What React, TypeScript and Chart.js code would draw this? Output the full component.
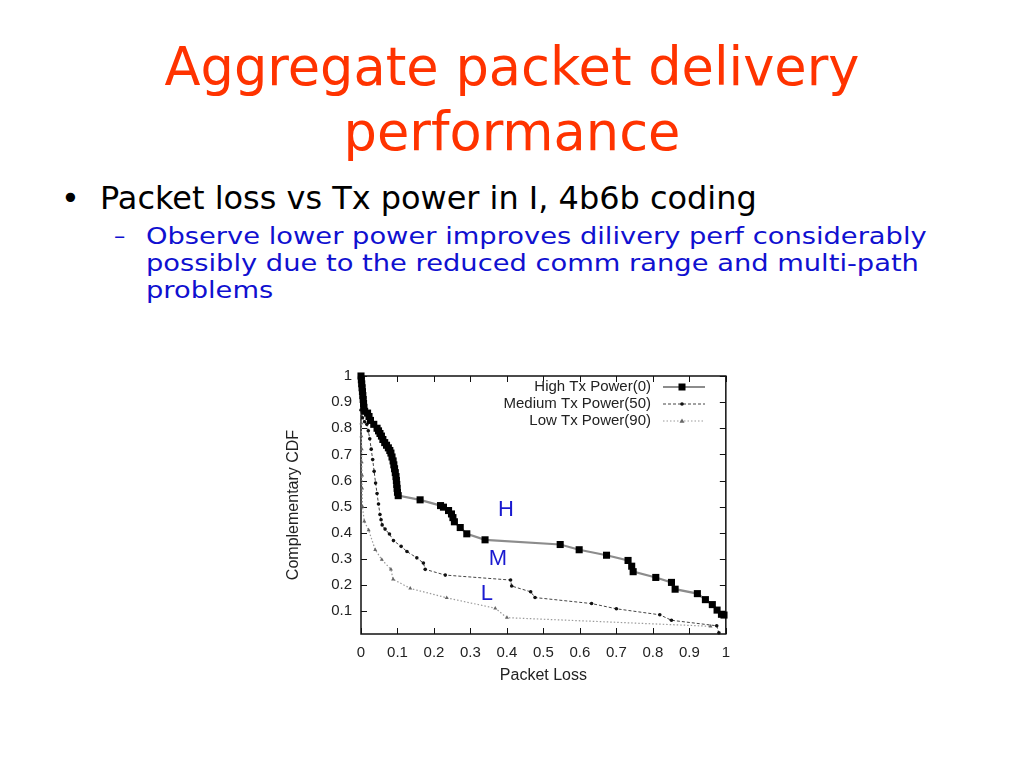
import { useEffect, useRef } from "react";
import { Chart, registerables } from "chart.js";

Chart.register(...registerables);

// ---------- slide text ----------
const titleLines = ["Aggregate packet delivery", "performance"];
const bulletText = "Packet loss vs Tx power in I, 4b6b coding";
const subBulletLines = [
  "Observe lower power improves dilivery perf considerably",
  "possibly due to the reduced comm range and multi-path",
  "problems",
];

// ---------- chart data ----------
const seriesNames = ["High Tx Power(0)", "Medium Tx Power(50)", "Low Tx Power(90)"];

const highX = [0, 0.001, 0.002, 0.003, 0.004, 0.005, 0.006, 0.007, 0.008, 0.01, 0.018, 0.022, 0.026, 0.035, 0.044, 0.048, 0.052, 0.056, 0.06, 0.065, 0.07, 0.075, 0.079, 0.082, 0.085, 0.088, 0.09, 0.092, 0.094, 0.096, 0.097, 0.098, 0.099, 0.1, 0.102, 0.162, 0.218, 0.226, 0.24, 0.248, 0.252, 0.256, 0.272, 0.29, 0.34, 0.546, 0.598, 0.673, 0.732, 0.742, 0.746, 0.808, 0.851, 0.861, 0.922, 0.944, 0.963, 0.976, 0.988, 0.995];
const highY = [1, 0.985, 0.97, 0.955, 0.94, 0.925, 0.91, 0.895, 0.88, 0.865, 0.858, 0.845, 0.83, 0.815, 0.8, 0.79, 0.78, 0.77, 0.757, 0.745, 0.735, 0.725, 0.715, 0.705, 0.69, 0.675, 0.66, 0.645, 0.63, 0.615, 0.6, 0.585, 0.57, 0.555, 0.542, 0.526, 0.504, 0.498, 0.485, 0.472, 0.458, 0.442, 0.42, 0.396, 0.373, 0.355, 0.335, 0.314, 0.294, 0.272, 0.251, 0.229, 0.21, 0.184, 0.167, 0.144, 0.125, 0.104, 0.088, 0.085];

const mediumX = [0, 0.004, 0.01, 0.016, 0.02, 0.024, 0.028, 0.032, 0.036, 0.04, 0.044, 0.048, 0.052, 0.055, 0.058, 0.066, 0.078, 0.089, 0.11, 0.126, 0.153, 0.171, 0.176, 0.231, 0.41, 0.413, 0.465, 0.477, 0.632, 0.7, 0.819, 0.851, 0.975, 0.981];
const mediumY = [0.87, 0.84, 0.825, 0.815, 0.79, 0.76, 0.72, 0.68, 0.635, 0.59, 0.55, 0.51, 0.47, 0.45, 0.43, 0.414, 0.395, 0.37, 0.348, 0.328, 0.304, 0.284, 0.26, 0.238, 0.219, 0.196, 0.174, 0.152, 0.129, 0.109, 0.086, 0.065, 0.044, 0.017];

const lowX = [0, 0.001, 0.001, 0.002, 0.002, 0.003, 0.003, 0.004, 0.009, 0.021, 0.039, 0.057, 0.082, 0.088, 0.135, 0.235, 0.368, 0.4, 0.958];
const lowY = [0.87, 0.82, 0.77, 0.72, 0.67, 0.62, 0.57, 0.5, 0.444, 0.41, 0.335, 0.297, 0.26, 0.222, 0.187, 0.151, 0.111, 0.075, 0.042];

const xTicks = [0, 0.1, 0.2, 0.3, 0.4, 0.5, 0.6, 0.7, 0.8, 0.9, 1];
const yTicks = [0.1, 0.2, 0.3, 0.4, 0.5, 0.6, 0.7, 0.8, 0.9, 1];
const xTitle = "Packet Loss";
const yTitle = "Complementary CDF";

const curveLabels = ["H", "M", "L"];
const curveLabelX = [0.397, 0.375, 0.345];
const curveLabelY = [0.487, 0.298, 0.167];

// ---------- helpers ----------
const SLIDE_FONT = "'DejaVu Sans', sans-serif";
const CHART_FONT = "'Liberation Sans', Arial, sans-serif";

function measure(text: string, family: string, size: number): number {
  const c = document.createElement("canvas").getContext("2d");
  if (!c) return text.length * size * 0.6;
  c.font = `${size}px ${family}`;
  return c.measureText(text).width;
}

function fitSize(text: string, family: string, target: number): number {
  return (100 * target) / measure(text, family, 100);
}

const toPoints = (xs: number[], ys: number[]) => xs.map((x, i) => ({ x, y: ys[i] }));

function drawMarker(ctx: CanvasRenderingContext2D, kind: number, x: number, y: number) {
  ctx.save();
  if (kind === 0) {
    ctx.fillStyle = "#000";
    ctx.fillRect(x - 3.5, y - 3.5, 7, 7);
  } else if (kind === 1) {
    ctx.fillStyle = "#111";
    ctx.beginPath();
    ctx.arc(x, y, 1.8, 0, Math.PI * 2);
    ctx.fill();
  } else {
    ctx.fillStyle = "#666";
    ctx.beginPath();
    ctx.moveTo(x, y - 2.5);
    ctx.lineTo(x + 2.5, y + 1.8);
    ctx.lineTo(x - 2.5, y + 1.8);
    ctx.closePath();
    ctx.fill();
  }
  ctx.restore();
}

const lineStyles = [
  { color: "#8c8c8c", width: 2.2, dash: [] as number[] },
  { color: "#444", width: 1, dash: [3, 2] },
  { color: "#9a9a9a", width: 1.2, dash: [1.5, 2] },
];

const framePlugin = {
  id: "gnuFrame",
  beforeDatasetsDraw(chart: any) {
    const { ctx, chartArea: a, scales } = chart;
    const xs = scales.x;
    const ys = scales.y;
    ctx.save();
    ctx.strokeStyle = "#111";
    ctx.lineWidth = 1.5;
    ctx.strokeRect(a.left, a.top, a.right - a.left, a.bottom - a.top);
    ctx.lineWidth = 1;
    ctx.beginPath();
    xTicks.forEach((v) => {
      const px = Math.round(xs.getPixelForValue(v)) + 0.5;
      ctx.moveTo(px, a.bottom);
      ctx.lineTo(px, a.bottom - 6);
      ctx.moveTo(px, a.top);
      ctx.lineTo(px, a.top + 6);
    });
    yTicks.forEach((v) => {
      const py = Math.round(ys.getPixelForValue(v)) + 0.5;
      ctx.moveTo(a.left, py);
      ctx.lineTo(a.left + 6, py);
      ctx.moveTo(a.right, py);
      ctx.lineTo(a.right - 6, py);
    });
    ctx.stroke();
    ctx.restore();
  },
  afterDatasetsDraw(chart: any) {
    const { ctx, chartArea: a, scales } = chart;
    ctx.save();
    // legend
    ctx.font = `15px ${CHART_FONT}`;
    ctx.textAlign = "right";
    ctx.textBaseline = "middle";
    seriesNames.forEach((name, i) => {
      const y = a.top + 11 + i * 17;
      ctx.fillStyle = "#222";
      ctx.fillText(name, a.left + 290, y);
      const st = lineStyles[i];
      ctx.strokeStyle = st.color;
      ctx.lineWidth = st.width;
      ctx.setLineDash(st.dash);
      ctx.beginPath();
      ctx.moveTo(a.left + 302, y);
      ctx.lineTo(a.left + 344, y);
      ctx.stroke();
      ctx.setLineDash([]);
      drawMarker(ctx, i, a.left + 321, y);
    });
    // curve annotations
    ctx.font = `22px ${CHART_FONT}`;
    ctx.textAlign = "center";
    ctx.fillStyle = "#1a1ad0";
    curveLabels.forEach((t, i) => {
      ctx.fillText(t, scales.x.getPixelForValue(curveLabelX[i]), scales.y.getPixelForValue(curveLabelY[i]));
    });
    ctx.restore();
  },
};

function CdfChart() {
  const ref = useRef<HTMLCanvasElement>(null);
  useEffect(() => {
    if (!ref.current) return;
    const chart = new Chart(ref.current, {
      type: "line",
      data: {
        datasets: [
          {
            label: seriesNames[0],
            data: toPoints(highX, highY),
            borderColor: lineStyles[0].color,
            borderWidth: lineStyles[0].width,
            pointStyle: "rect",
            pointRadius: 5,
            pointBackgroundColor: "#000",
            pointBorderWidth: 0,
            tension: 0,
            clip: false,
          },
          {
            label: seriesNames[1],
            data: toPoints(mediumX, mediumY),
            borderColor: lineStyles[1].color,
            borderWidth: lineStyles[1].width,
            borderDash: lineStyles[1].dash,
            pointStyle: "circle",
            pointRadius: 1.8,
            pointBackgroundColor: "#111",
            pointBorderWidth: 0,
            tension: 0,
            clip: false,
          },
          {
            label: seriesNames[2],
            data: toPoints(lowX, lowY),
            borderColor: lineStyles[2].color,
            borderWidth: lineStyles[2].width,
            borderDash: lineStyles[2].dash,
            pointStyle: "triangle",
            pointRadius: 2.3,
            pointBackgroundColor: "#666",
            pointBorderWidth: 0,
            tension: 0,
            clip: false,
          },
        ] as any,
      },
      options: {
        responsive: false,
        animation: false,
        layout: { padding: { left: 0, top: 13, right: 14, bottom: 0 } },
        plugins: { legend: { display: false }, tooltip: { enabled: false } },
        scales: {
          x: {
            type: "linear",
            min: 0,
            max: 1,
            grid: { display: false, drawTicks: false },
            border: { display: false },
            afterBuildTicks: (s: any) => {
              s.ticks = xTicks.map((v) => ({ value: v }));
            },
            afterFit: (s: any) => {
              s.height = 56;
            },
            ticks: {
              padding: 10,
              color: "#222",
              font: { family: CHART_FONT, size: 15 },
              maxRotation: 0,
              autoSkip: false,
              callback: (v: any) => String(Number(Number(v).toFixed(1))),
            },
            title: {
              display: true,
              text: xTitle,
              color: "#222",
              font: { family: CHART_FONT, size: 16 },
              padding: { top: 0, bottom: 5 },
            },
          },
          y: {
            type: "linear",
            min: 0.0125,
            max: 1,
            grid: { display: false, drawTicks: false },
            border: { display: false },
            afterBuildTicks: (s: any) => {
              s.ticks = yTicks.map((v) => ({ value: v }));
            },
            afterFit: (s: any) => {
              s.width = 91;
            },
            ticks: {
              padding: 9,
              color: "#222",
              font: { family: CHART_FONT, size: 15 },
              autoSkip: false,
              callback: (v: any) => String(Number(Number(v).toFixed(1))),
            },
            title: {
              display: true,
              text: yTitle,
              color: "#222",
              font: { family: CHART_FONT, size: 16 },
              padding: { top: 14, bottom: 0 },
            },
          },
        },
      },
      plugins: [framePlugin],
    } as any);
    return () => chart.destroy();
  }, []);
  return <canvas ref={ref} width={470} height={332} style={{ display: "block" }} />;
}

export default function App() {
  const titleSize = fitSize(titleLines[0], SLIDE_FONT, 695);
  const bulletSize = fitSize(bulletText, SLIDE_FONT, 657);
  // sub-bullet: keep the line boxes from overlapping (27px leading), widen glyphs horizontally
  const subSize = 22.5;
  const subNatural = measure(subBulletLines[0], SLIDE_FONT, subSize);
  const subScale = 781 / subNatural;
  return (
    <div style={{ position: "absolute", left: 0, top: 0, width: 1024, height: 768, background: "#fff", overflow: "hidden" }}>
      <svg width={1024} height={768} style={{ position: "absolute", left: 0, top: 0 }}>
        <g fontFamily={SLIDE_FONT}>
          <text x={512} y={85} textAnchor="middle" fontSize={titleSize} fill="#ff3300">{titleLines[0]}</text>
          <text x={512} y={150} textAnchor="middle" fontSize={titleSize} fill="#ff3300">{titleLines[1]}</text>
          <text x={61} y={209} fontSize={bulletSize} fill="#000">•</text>
          <text x={100} y={209} fontSize={bulletSize} fill="#000">{bulletText}</text>
          <text x={114} y={244} fontSize={subSize} fill="#1010d0">–</text>
          {subBulletLines.map((t, i) => (
            <text key={i} x={0} y={0} fontSize={subSize} fill="#1010d0" transform={`translate(146 ${244 + i * 27}) scale(${subScale} 1)`}>{t}</text>
          ))}
        </g>
      </svg>
      <div style={{ position: "absolute", left: 270, top: 358, width: 470, height: 332 }}>
        <CdfChart />
      </div>
    </div>
  );
}
